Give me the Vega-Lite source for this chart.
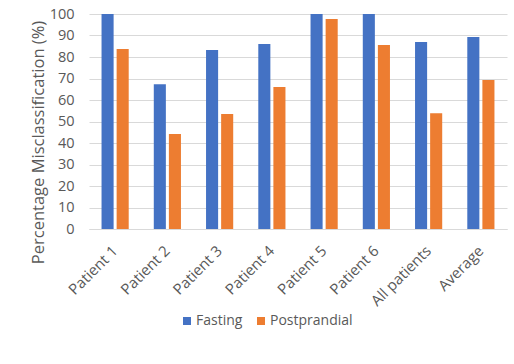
{
  "$schema": "https://vega.github.io/schema/vega-lite/v6.json",
  "width": 418,
  "height": 215,
  "autosize": "none",
  "padding": {"left": 89, "top": 14, "right": 7, "bottom": 135},
  "background": "white",
  "data": {
    "values": [
      {"group": "Patient 1", "condition": "Fasting", "value": 100},
      {"group": "Patient 1", "condition": "Postprandial", "value": 83.7},
      {"group": "Patient 2", "condition": "Fasting", "value": 67.3},
      {"group": "Patient 2", "condition": "Postprandial", "value": 44.2},
      {"group": "Patient 3", "condition": "Fasting", "value": 83.3},
      {"group": "Patient 3", "condition": "Postprandial", "value": 53.5},
      {"group": "Patient 4", "condition": "Fasting", "value": 86.0},
      {"group": "Patient 4", "condition": "Postprandial", "value": 66.0},
      {"group": "Patient 5", "condition": "Fasting", "value": 100},
      {"group": "Patient 5", "condition": "Postprandial", "value": 97.7},
      {"group": "Patient 6", "condition": "Fasting", "value": 100},
      {"group": "Patient 6", "condition": "Postprandial", "value": 85.6},
      {"group": "All patients", "condition": "Fasting", "value": 87.0},
      {"group": "All patients", "condition": "Postprandial", "value": 53.8},
      {"group": "Average", "condition": "Fasting", "value": 89.3},
      {"group": "Average", "condition": "Postprandial", "value": 69.3}
    ]
  },
  "mark": {"type": "bar"},
  "encoding": {
    "x": {
      "field": "group",
      "type": "nominal",
      "sort": null,
      "scale": {"paddingInner": 0.48, "paddingOuter": 0.24},
      "axis": {
        "title": null,
        "labelAngle": -45,
        "labelAlign": "right",
        "labelBaseline": "middle",
        "labelPadding": 19,
        "labelFont": "Open Sans",
        "labelFontSize": 15,
        "labelColor": "#595959",
        "ticks": false,
        "domain": true,
        "domainColor": "#d9d9d9",
        "domainWidth": 1
      }
    },
    "xOffset": {
      "field": "condition",
      "type": "nominal",
      "scale": {"paddingInner": 0.2, "paddingOuter": 0}
    },
    "y": {
      "field": "value",
      "type": "quantitative",
      "scale": {"domain": [0, 100], "nice": false},
      "axis": {
        "title": "Percentage Misclassification (%)",
        "titleFont": "Open Sans",
        "titleFontSize": 16.5,
        "titleFontWeight": "normal",
        "titleColor": "#595959",
        "titleX": -51,
        "titleY": 128,
        "titleAngle": -90,
        "titleAlign": "center",
        "titleBaseline": "middle",
        "values": [0, 10, 20, 30, 40, 50, 60, 70, 80, 90, 100],
        "labelFont": "Open Sans",
        "labelFontSize": 14.5,
        "labelColor": "#595959",
        "labelPadding": 15,
        "ticks": false,
        "domain": false,
        "grid": true,
        "gridColor": "#d9d9d9",
        "gridWidth": 1
      }
    },
    "color": {
      "field": "condition",
      "type": "nominal",
      "scale": {"domain": ["Fasting", "Postprandial"], "range": ["#4472C4", "#ED7D31"]},
      "legend": {
        "title": null,
        "orient": "none",
        "direction": "horizontal",
        "legendX": 91,
        "legendY": 300,
        "symbolType": "square",
        "symbolSize": 64,
        "symbolStrokeWidth": 0,
        "labelFont": "Open Sans",
        "labelFontSize": 14,
        "labelColor": "#595959",
        "labelOffset": 2,
        "columnPadding": 11
      }
    }
  },
  "config": {"view": {"stroke": null}}
}
